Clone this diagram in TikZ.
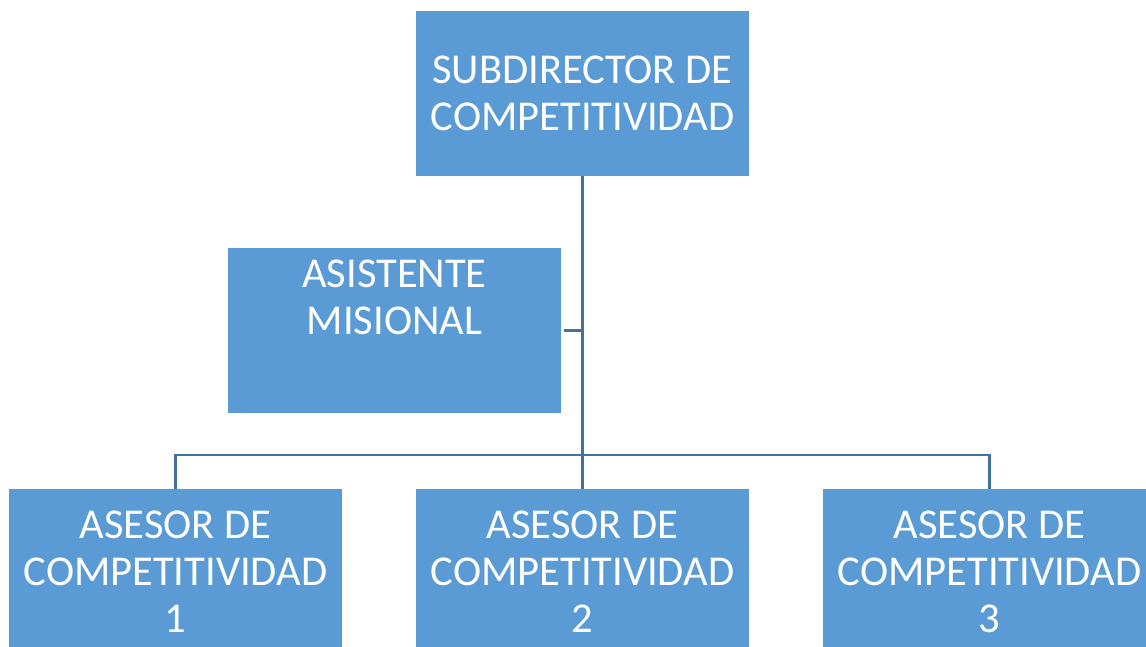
\documentclass[tikz,border=0pt]{standalone}
\usepackage{fontspec}
\setmainfont{Carlito}
\definecolor{boxfill}{HTML}{5B9BD5}
\definecolor{linec}{HTML}{41719C}
\begin{document}
\begin{tikzpicture}[x=1pt,y=-1pt,
  orgbox/.style={rectangle,fill=boxfill,minimum width=333pt,minimum height=165pt,inner sep=0pt,
    text=white,align=center,font=\fontsize{42.5}{47}\selectfont},
  conn/.style={draw=linec,line width=2.2pt}]
\useasboundingbox (0,0) rectangle (1146,647);
\node[orgbox] (top) at (582.5,93.5) {SUBDIRECTOR DE\\COMPETITIVIDAD};
\node[orgbox] (asist) at (394.5,330.5) {};
\node[text=white,align=center,font=\fontsize{42.5}{47}\selectfont,anchor=north,inner sep=0pt] (asistlbl) at (394.5,260) {ASISTENTE\\MISIONAL};
\node[orgbox] (a1) at (175.5,571.5) {ASESOR DE\\COMPETITIVIDAD\\1};
\node[orgbox] (a2) at (582.5,571.5) {ASESOR DE\\COMPETITIVIDAD\\2};
\node[orgbox] (a3) at (989.5,571.5) {ASESOR DE\\COMPETITIVIDAD\\3};
\coordinate (busL) at (175.5,455);
\coordinate (busR) at (989.5,455);
\coordinate (j) at (582.5,330.5);
\draw[conn] (top.south) -- (a2.north);
\draw[conn] (a1.north) -- (busL) -- (busR) -- (a3.north);
\draw[conn] ([xshift=3pt]asist.east) -- (j);
\end{tikzpicture}
\end{document}
